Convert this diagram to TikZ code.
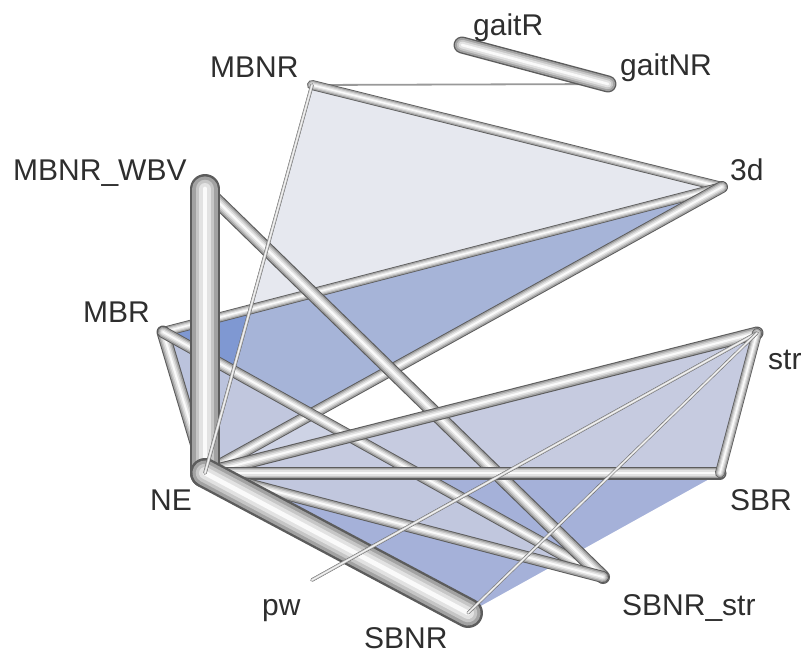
\documentclass[tikz,border=0pt]{standalone}
\usepackage{fontspec}
\setmainfont{Liberation Sans}
\usetikzlibrary{positioning}

\definecolor{tubeA}{HTML}{5C5C5C}
\definecolor{tubeB}{HTML}{A2A2A2}
\definecolor{tubeC}{HTML}{C6C6C6}
\definecolor{tubeD}{HTML}{E2E2E2}
\definecolor{tubeE}{HTML}{FAFAFA}
\definecolor{faceBlue}{HTML}{7F98D2}
\definecolor{faceGray}{HTML}{CDD1DF}
\definecolor{faceMid}{HTML}{A5B1D9}
\definecolor{faceLight}{HTML}{C6CBE0}
\definecolor{labelgray}{HTML}{2E2E2E}

% one shaded tube between two named points, width in pt
\newcommand{\tubeedge}[3]{%
  \foreach \f/\c in {1/tubeA,0.84/tubeB,0.62/tubeC,0.4/tubeD,0.16/tubeE}
    \draw[line width=\f*#3pt, draw=\c, line cap=round, line join=round] (#1) -- (#2);
}

\begin{document}
\begin{tikzpicture}[
  x=1pt, y=-1pt,
  lbl/.style={anchor=base west, inner sep=0pt, text=labelgray, font=\fontsize{30}{36}\selectfont},
  plainedge/.style={draw=gray!80, line width=1.8pt}
]
\useasboundingbox (0,0) rectangle (805,654);

% vertices
\coordinate (gaitR) at (462,45);
\coordinate (gaitNR) at (608,84);
\coordinate (MBNR) at (312,85);
\coordinate (3d) at (722,187);
\coordinate (MBNRWBV) at (205,189);
\coordinate (MBR) at (163,332);
\coordinate (NE) at (205,473);
\coordinate (str) at (757,333);
\coordinate (SBR) at (720,473);
\coordinate (SBNRstr) at (603,577);
\coordinate (pw) at (312,580);
\coordinate (SBNR) at (468,613);

% labels
\node[lbl] (tgaitR) at (473,35) {gaitR};
\node[lbl] (tgaitNR) at (620,75) {gaitNR};
\node[lbl] (tMBNR) at (210,77) {MBNR};
\node[lbl] (t3d) at (730,180) {3d};
\node[lbl] (tMBNRWBV) at (13,180) {MBNR\_WBV};
\node[lbl] (tMBR) at (83,322) {MBR};
\node[lbl] (tNE) at (150,510) {NE};
\node[lbl] (tstr) at (768,369) {str};
\node[lbl] (tSBR) at (730,510) {SBR};
\node[lbl] (tSBNRstr) at (622,615) {SBNR\_str};
\node[lbl] (tpw) at (262,615) {pw};
\node[lbl] (tSBNR) at (364,648) {SBNR};

% faces
\fill[faceBlue] (MBR) -- (3d) -- (NE) -- cycle;
\fill[faceGray, fill opacity=0.5] (MBNR) -- (3d) -- (NE) -- cycle;
\fill[faceMid] (NE) -- (SBR) -- (SBNR) -- cycle;
\fill[faceLight] (NE) -- (str) -- (SBR) -- cycle;
\fill[faceLight, fill opacity=0.85] (MBR) -- (NE) -- (SBNRstr) -- cycle;

% edges
\draw[plainedge] (MBNR) -- (gaitNR);
\tubeedge{MBNR}{3d}{10}
\tubeedge{3d}{MBR}{10}
\tubeedge{3d}{NE}{12}
\tubeedge{MBR}{NE}{13}
\tubeedge{MBR}{SBNRstr}{12}
\tubeedge{MBNRWBV}{SBNRstr}{14}
\tubeedge{NE}{str}{13}
\tubeedge{NE}{SBR}{13}
\tubeedge{NE}{SBNRstr}{12}
\tubeedge{str}{SBR}{10}
\tubeedge{gaitR}{gaitNR}{17}
\tubeedge{MBNRWBV}{NE}{30}
\tubeedge{NE}{SBNR}{30}
\tubeedge{MBNR}{NE}{3.5}
\tubeedge{str}{pw}{3.5}
\tubeedge{str}{SBNR}{3}
\end{tikzpicture}
\end{document}
